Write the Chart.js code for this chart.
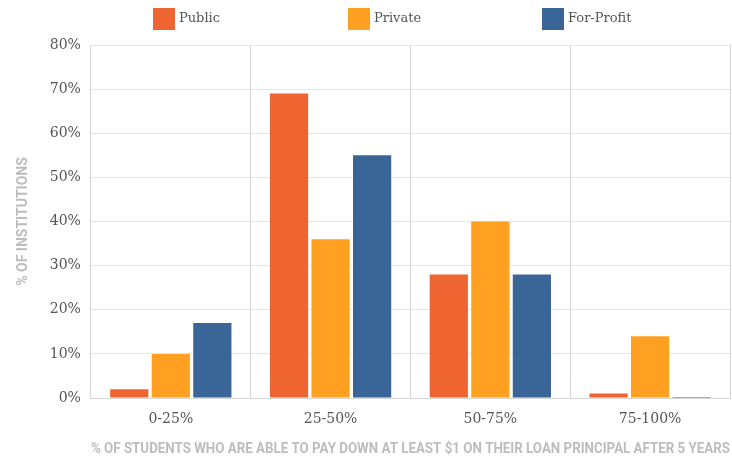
<!DOCTYPE html>
<html>
<head>
<meta charset="utf-8">
<script src="https://cdn.jsdelivr.net/npm/chart.js@4/dist/chart.umd.min.js"></script>
<style>
  html, body { margin: 0; padding: 0; background: #fff; }
  #wrap { width: 732px; height: 456px; }
</style>
</head>
<body>
<div id="wrap"><canvas id="chart"></canvas></div>
<script>
const categories = ["0-25%", "25-50%", "50-75%", "75-100%"];
const publicVals = [2, 69, 28, 1];
const privateVals = [10, 36, 40, 14];
const forProfitVals = [17, 55, 28, 0.2];
const seriesNames = ["Public", "Private", "For-Profit"];
const colors = ["#EF6532", "#FEA021", "#3A6597"];

const serif = "'DejaVu Serif', serif";
const cond = "'Liberation Sans Narrow', 'Roboto', sans-serif";

// legend drawn by hand so the three items sit spread across the top
const topLegend = {
  id: "topLegend",
  afterDraw(chart) {
    const c = chart.ctx;
    const starts = [153, 348, 542];
    c.save();
    c.font = "13px " + serif;
    c.textBaseline = "middle";
    chart.data.datasets.forEach((ds, i) => {
      c.fillStyle = ds.backgroundColor;
      c.fillRect(starts[i], 8, 22, 22);
      c.fillStyle = "#555";
      c.fillText(ds.label, starts[i] + 26, 19);
    });
    c.restore();
  },
};

const ctx = document.getElementById("chart").getContext("2d");
new Chart(ctx, {
  type: "bar",
  data: {
    labels: categories,
    datasets: [publicVals, privateVals, forProfitVals].map((vals, i) => ({
      label: seriesNames[i],
      data: vals,
      backgroundColor: colors[i],
      borderWidth: 0,
      categoryPercentage: 0.78,
      barPercentage: 0.92,
    })),
  },
  plugins: [topLegend],
  options: {
    responsive: true,
    maintainAspectRatio: false,
    animation: false,
    layout: { padding: { left: 15, right: 2, top: 45, bottom: 0 } },
    plugins: {
      tooltip: { enabled: false },
      legend: { display: false },
    },
    scales: {
      x: {
        grid: { color: "#d6d6d6", drawTicks: false, offset: true },
        border: { color: "#d6d6d6" },
        ticks: { color: "#555", font: { family: serif, size: 14, lineHeight: 1 }, padding: 14 },
        title: {
          display: true,
          text: "% OF STUDENTS WHO ARE ABLE TO PAY DOWN AT LEAST $1 ON THEIR LOAN PRINCIPAL AFTER 5 YEARS",
          color: "#bdbdbd",
          font: { family: cond, size: 14, weight: "bold", lineHeight: 1 },
          padding: { top: 2, bottom: 0 },
        },
      },
      y: {
        min: 0,
        max: 80,
        grid: { color: "#e6e6e6", drawTicks: false },
        border: { color: "#d6d6d6" },
        ticks: {
          stepSize: 10,
          color: "#555",
          padding: 10,
          font: { family: serif, size: 14 },
          callback: (v) => v + "%",
        },
        title: {
          display: true,
          text: "% OF INSTITUTIONS",
          color: "#bdbdbd",
          font: { family: cond, size: 14, weight: "bold" },
          padding: { top: 0, bottom: 8 },
        },
      },
    },
  },
});
</script>
</body>
</html>
